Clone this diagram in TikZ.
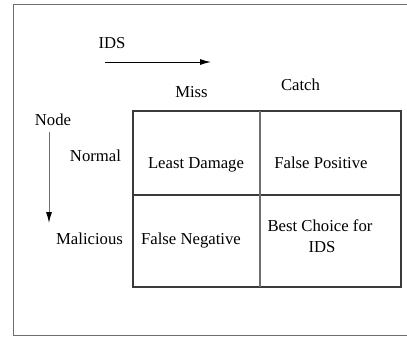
\documentclass[tikz,border=0pt]{standalone}
\usepackage{fontspec}
\setmainfont{Liberation Serif}
\usetikzlibrary{arrows.meta,positioning}
\definecolor{framegray}{HTML}{6E6E6E}
\definecolor{gridgray}{HTML}{3A3A3A}
\tikzset{
  label/.style={anchor=base,inner sep=0pt,font=\fontsize{16.7}{19}\selectfont},
  cell/.style={label,align=center},
  grid/.style={draw=gridgray,line width=1.1pt},
  frame/.style={draw=framegray,line width=1pt},
  flow/.style={-{Latex[length=11pt,width=6pt,black]},line width=1pt},
}

\begin{document}
\begin{tikzpicture}[x=1pt,y=-1pt]
			\useasboundingbox (0,0) rectangle (407,340);
			\draw[frame] (13.5,4.5) rectangle (420,335);
			
			% axis labels
			\node[label] (ids) at (112,48) {IDS};
			\node[label] (node) at (53,125) {Node};
			\coordinate (idsstart) at (105,62);
			\coordinate (idsend) at (211,62);
			\coordinate (nodestart) at (49,132);
			\coordinate (nodeend) at (49,223);
			\draw[flow] (idsstart)--(idsend);
			\draw[flow,draw=framegray] (nodestart)--(nodeend);
			
			\node[label] (miss) at (191.5,97) {Miss};
			\node[label] (catch) at (300.5,90) {Catch};
			\node[label] (normal) at (95.5,161) {Normal};
			\node[label] (malicious) at (89.5,244) {Malicious};
			
			% the table
			\draw[grid] (133,111) rectangle (401,287);
			\draw[grid] (133,195)--(401,195);
			\draw[grid,draw=framegray] (260,111)--(260,287);
			
			\node[cell] (least) at (196,168) {Least Damage};
			\node[cell] (falsepos) at (321,168) {False Positive};
			\node[cell] (falseneg) at (191,244) {False Negative};
			\node[cell] (best) at (320,231) {Best Choice for};
			\node[cell] (bestids) at (322,252) {IDS};
		\end{tikzpicture}
\end{document}
